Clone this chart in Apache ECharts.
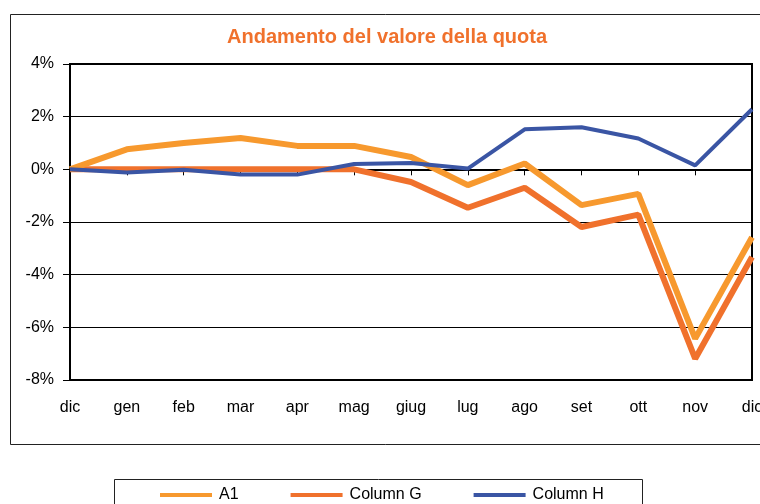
<!DOCTYPE html>
<html>
<head>
<meta charset="utf-8">
<script src="https://cdn.jsdelivr.net/npm/echarts@6/dist/echarts.min.js"></script>
<style>
  html, body { margin: 0; padding: 0; background: #fff; overflow: hidden; }
  #chart { width: 760px; height: 504px; }
</style>
</head>
<body>
<div id="chart"></div>
<script>
// months (dic -> dic)
const months = ['dic', 'gen', 'feb', 'mar', 'apr', 'mag', 'giug', 'lug', 'ago', 'set', 'ott', 'nov', 'dic'];

// percent values
const a1 = [0, 0.76, 1.0, 1.19, 0.89, 0.89, 0.47, -0.6, 0.22, -1.36, -0.93, -6.43, -2.58];
const columnG = [0, 0, 0, 0, 0, 0, -0.48, -1.46, -0.7, -2.19, -1.72, -7.19, -3.33];
const columnH = [0, -0.12, -0.02, -0.2, -0.2, 0.2, 0.24, 0.03, 1.52, 1.6, 1.17, 0.15, 2.28];

const COLORS = { a1: '#F7992E', g: '#F0712C', h: '#3A55A4' };
const FONT = '"Liberation Sans", Arial, sans-serif';

const chart = echarts.init(document.getElementById('chart'), null, { renderer: 'canvas' });

const option = {
  backgroundColor: '#fff',
  animation: false,
  title: {
    text: 'Andamento del valore della quota',
    left: 222,
    top: 22,
    textStyle: { fontFamily: FONT, fontSize: 20, fontWeight: 'bold', color: '#F0712C' }
  },
  graphic: [
    // outer chart frame
    { type: 'rect', left: 8, top: 12, shape: { width: 800, height: 430 }, style: { fill: null, stroke: '#222', lineWidth: 1 }, silent: true },
    // legend frame
    { type: 'rect', left: 112, top: 477, shape: { width: 528, height: 40 }, style: { fill: null, stroke: '#222', lineWidth: 1 }, silent: true }
  ],
  legend: {
    data: ['A1', 'Column G', 'Column H'],
    left: 155,
    top: 482,
    icon: 'rect',
    itemWidth: 52,
    itemHeight: 4,
    itemGap: 52,
    textStyle: { fontFamily: FONT, fontSize: 16, color: '#000', padding: [0, 0, 0, 2] }
  },
  grid: {
    left: 70,
    right: 8,
    top: 64,
    bottom: 124,
    outerBoundsMode: 'none',
    show: true,
    borderColor: '#000',
    borderWidth: 2
  },
  xAxis: {
    type: 'category',
    data: months,
    boundaryGap: false,
    axisLine: { lineStyle: { color: '#000', width: 2 } },
    axisTick: { show: true, length: 6, lineStyle: { color: '#000' } },
    axisLabel: { color: '#000', fontFamily: FONT, fontSize: 16, margin: 20, interval: 0 },
    splitLine: { show: false }
  },
  yAxis: {
    type: 'value',
    min: -8,
    max: 4,
    interval: 2,
    axisLine: { show: true, lineStyle: { color: '#000', width: 2 } },
    axisTick: { show: true, length: 7, lineStyle: { color: '#000' } },
    axisLabel: { color: '#000', fontFamily: FONT, fontSize: 16, margin: 16, formatter: '{value}%' },
    splitLine: { show: true, lineStyle: { color: '#000', width: 1 } }
  },
  series: [
    {
      name: 'A1', type: 'line', data: a1, symbol: 'none',
      itemStyle: { color: COLORS.a1 },
      lineStyle: { color: COLORS.a1, width: 6 }, z: 3
    },
    {
      name: 'Column G', type: 'line', data: columnG, symbol: 'none',
      itemStyle: { color: COLORS.g },
      lineStyle: { color: COLORS.g, width: 6 }, z: 2
    },
    {
      name: 'Column H', type: 'line', data: columnH, symbol: 'none',
      itemStyle: { color: COLORS.h },
      lineStyle: { color: COLORS.h, width: 4 }, z: 4
    }
  ]
};

chart.setOption(option);
</script>
</body>
</html>
